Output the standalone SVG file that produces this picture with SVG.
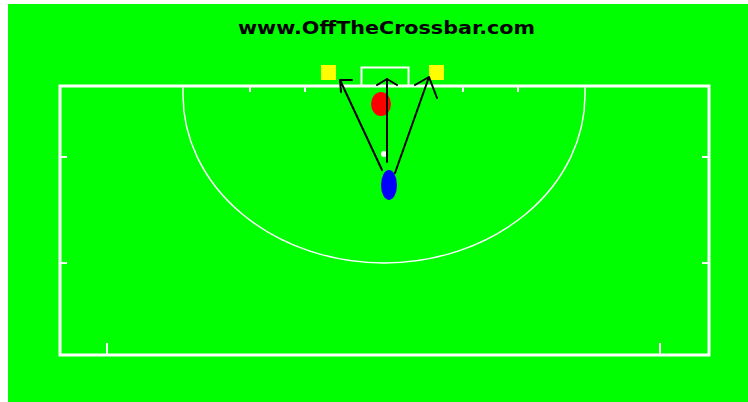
<svg xmlns="http://www.w3.org/2000/svg" width="748" height="402" viewBox="0 0 748 402">
  <defs>
    <style>
      .line { fill: none; stroke: #ffffff; stroke-width: 3; }
      .thin { fill: none; stroke: #ffffff; stroke-width: 1.5; }
      .goal { fill: none; stroke: #ffffff; stroke-width: 2; }
      .tick { fill: none; stroke: #ffffff; stroke-width: 2; }
      .pass { fill: none; stroke: #000000; stroke-width: 2; stroke-linecap: round; stroke-linejoin: round; }
      .title { font-family: "DejaVu Sans", Verdana, sans-serif; font-weight: bold; font-size: 17.5px; fill: #000000; }
    </style>
  </defs>

  <!-- page and pitch surface -->
  <rect x="0" y="0" width="748" height="402" fill="#ffffff"/>
  <rect x="8" y="4" width="740" height="398" fill="#00ff00"/>

  <text class="title" x="386.5" y="33.5" text-anchor="middle" textLength="297" lengthAdjust="spacingAndGlyphs">www.OffTheCrossbar.com</text>

  <!-- pitch markings -->
  <g id="pitch">
    <rect class="line" x="60" y="86" width="649" height="269"/>
    <path class="thin" d="M183 86 V95 A201 168 0 0 0 585 95 V86"/>
    <rect class="goal" x="361.5" y="67.5" width="47" height="18.5"/>
    <path class="tick" d="M60 157 H67 M60 263 H67 M709 157 H702 M709 263 H702 M107 355 V343 M660 355 V343 M250 86 V92 M305 86 V92 M463 86 V92 M518 86 V92"/>
  </g>

  <!-- cones -->
  <g id="cone-left"><rect x="321" y="65" width="15" height="15" fill="#ffff00"/></g>
  <g id="cone-right"><rect x="429" y="65" width="15" height="15" fill="#ffff00"/></g>

  <!-- defender / goalkeeper -->
  <g id="defender"><ellipse cx="381" cy="104" rx="10" ry="12" fill="#ff0000"/></g>

  <!-- ball -->
  <g id="ball"><circle cx="384" cy="154" r="3" fill="#ffffff"/></g>

  <!-- attacker -->
  <g id="attacker"><ellipse cx="389" cy="185" rx="8" ry="15" fill="#0000ff"/></g>

  <!-- passing options -->
  <g id="connectors">
    <path class="pass" d="M382 170 L340 80 M340 80 L352 80 M340 80 L341 92"/>
    <path class="pass" d="M387 162 L387 79 M387 79 L377 85 M387 79 L397 85"/>
    <path class="pass" d="M395 173 L429 77 M429 77 L415 85 M429 77 L437 98"/>
  </g>
</svg>
